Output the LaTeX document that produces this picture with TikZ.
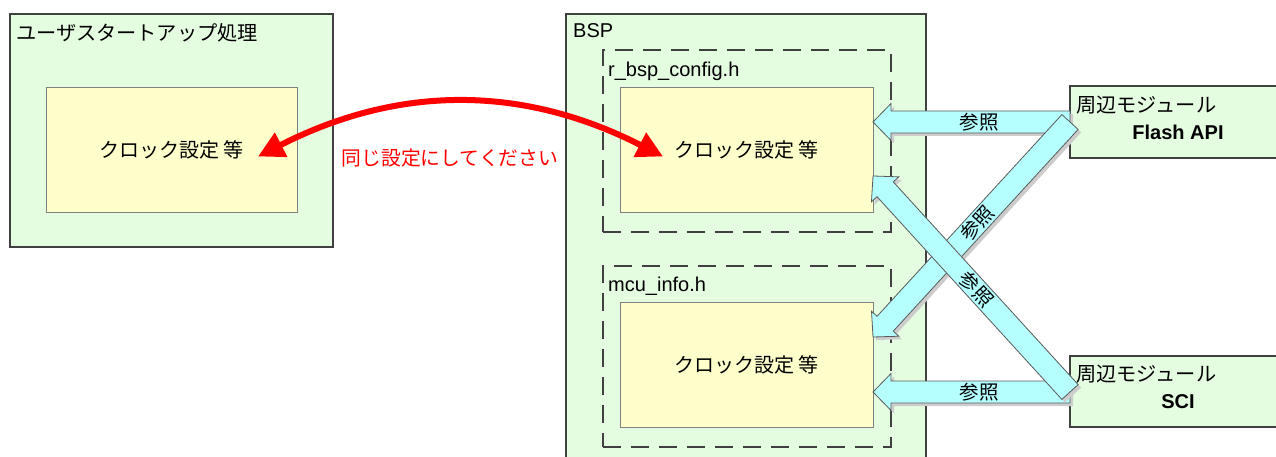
\documentclass[tikz,border=0pt]{standalone}
\usepackage{fontspec}
\setmainfont{Liberation Sans}
\newfontfamily\jp{Noto Sans CJK JP}
\usetikzlibrary{calc,arrows.meta}
\definecolor{boxgreen}{HTML}{E4FDE0}
\definecolor{boxyellow}{HTML}{FFFFCC}
\definecolor{arrcyan}{HTML}{B5FFFF}
\definecolor{edgegray}{HTML}{404040}
\tikzset{
 outerbox/.style={draw=edgegray, line width=2.4pt, fill=boxgreen, rectangle, inner sep=0pt, outer sep=0pt, anchor=north west},
 filebox/.style={draw=edgegray, line width=2.6pt, dash pattern=on 18pt off 10pt, rectangle, inner sep=0pt, outer sep=0pt, anchor=north west},
 clockbox/.style={draw=gray, line width=0.9pt, fill=boxyellow, rectangle, inner sep=0pt, outer sep=0pt, anchor=north west, font=\jp\fontsize{20}{24}\selectfont},
 title/.style={anchor=base west, inner sep=0pt, font=\fontsize{20}{24}\selectfont},
 jtitle/.style={anchor=west, inner sep=0pt, font=\jp\fontsize{20.2}{24}\selectfont},
 btitle/.style={anchor=center, inner sep=0pt, font=\bfseries\fontsize{20}{24}\selectfont},
 refl/.style={inner sep=0pt, font=\jp\fontsize{19.5}{22}\selectfont},
 blkfill/.style={fill=arrcyan, draw=gray!70!black, line width=0.8pt, line join=miter},
 blkshadow/.style={fill=black!20, draw=none, transform canvas={shift={(3pt,-3pt)}}},
 redarrow/.style={draw=red, line width=6pt, {Triangle[length=26pt,width=26pt]}-{Triangle[length=26pt,width=26pt]}},
 redtext/.style={inner sep=0pt, text=red, font=\jp\fontsize{19.8}{24}\selectfont},
}
% block arrow outline from tail #1 to tip #2
\newcommand\blkpath[2]{($(#1)!11pt!90:(#2)$) -- ($(bh)!11pt!90:(#2)$) -- ($(bh)!18.5pt!90:(#2)$) -- (#2) -- ($(bh)!18.5pt!-90:(#2)$) -- ($(bh)!11pt!-90:(#2)$) -- ($(#1)!11pt!-90:(#2)$) -- cycle}
\newcommand\blkarr[2]{%
 \coordinate (bh) at ($(#2)!18pt!(#1)$);
 \fill[blkshadow] \blkpath{#1}{#2};
 \filldraw[blkfill] \blkpath{#1}{#2};
}
\begin{document}
\begin{tikzpicture}[x=1pt,y=-1pt]
\useasboundingbox (0,0) rectangle (1276,457);
\clip (0,0) rectangle (1276,457);
% left block
\node[outerbox, minimum width=323pt, minimum height=233pt] (user) at (10,14) {};
\node[jtitle] (usert) at (16,33) {ユーザスタートアップ処理};
\node[clockbox, minimum width=251pt, minimum height=125pt] (lclk) at (46,87) {クロック設定 等};
% BSP
\node[outerbox, minimum width=360pt, minimum height=470pt] (bsp) at (566,14) {};
\node[title] (bspt) at (573,38) {BSP};
\node[filebox, minimum width=288pt, minimum height=182pt] (cfg) at (603,50) {};
\node[title] (cfgt) at (608,76.5) {r\_bsp\_config.h};
\node[clockbox, minimum width=253pt, minimum height=125pt] (cfgclk) at (620,87) {クロック設定 等};
\node[filebox, minimum width=288pt, minimum height=181pt] (mcu) at (603,266) {};
\node[title] (mcut) at (608,291) {mcu\_info.h};
\node[clockbox, minimum width=253pt, minimum height=125pt] (mcuclk) at (620,302) {クロック設定 等};
% modules
\node[outerbox, minimum width=220pt, minimum height=72pt] (flash) at (1070,86) {};
\node[jtitle] (flasht1) at (1076,105) {周辺モジュール};
\node[btitle] (flasht2) at (1178,132) {Flash API};
\node[outerbox, minimum width=220pt, minimum height=71pt] (sci) at (1070,356) {};
\node[jtitle] (scit1) at (1076,374) {周辺モジュール};
\node[btitle] (scit2) at (1178,402) {SCI};
% arrow end points
\coordinate (f0) at ([yshift=-36pt]flash.north west);
\coordinate (s0) at ([yshift=-36pt]sci.north west);
\coordinate (c0) at ([yshift=-35pt]cfgclk.north east);
\coordinate (c2) at ([yshift=-89pt]cfgclk.north east);
\coordinate (m1) at ([yshift=-35pt]mcuclk.north east);
\coordinate (m0) at ([yshift=-90pt]mcuclk.north east);
% block arrows
\blkarr{f0}{c0}
\blkarr{s0}{m0}
\blkarr{f0}{m1}
\blkarr{s0}{c2}
\node[refl] (r1) at ($(f0)!0.46!(c0)$) {参照};
\node[refl] (r2) at ($(s0)!0.46!(m0)$) {参照};
\node[refl, rotate=47.5] (r3) at ($(f0)!0.47!(m1)$) {参照};
\node[refl, rotate=-47.6] (r4) at ($(s0)!0.475!(c2)$) {参照};
% red double arrow
\coordinate (rl) at ([xshift=-39pt,yshift=-7pt]lclk.east);
\coordinate (rr) at ([xshift=43pt,yshift=-7pt]cfgclk.west);
\draw[redarrow] (rl) to[bend left=27] (rr);
\node[redtext] (same) at (450,158) {同じ設定にしてください};
\end{tikzpicture}
\end{document}
